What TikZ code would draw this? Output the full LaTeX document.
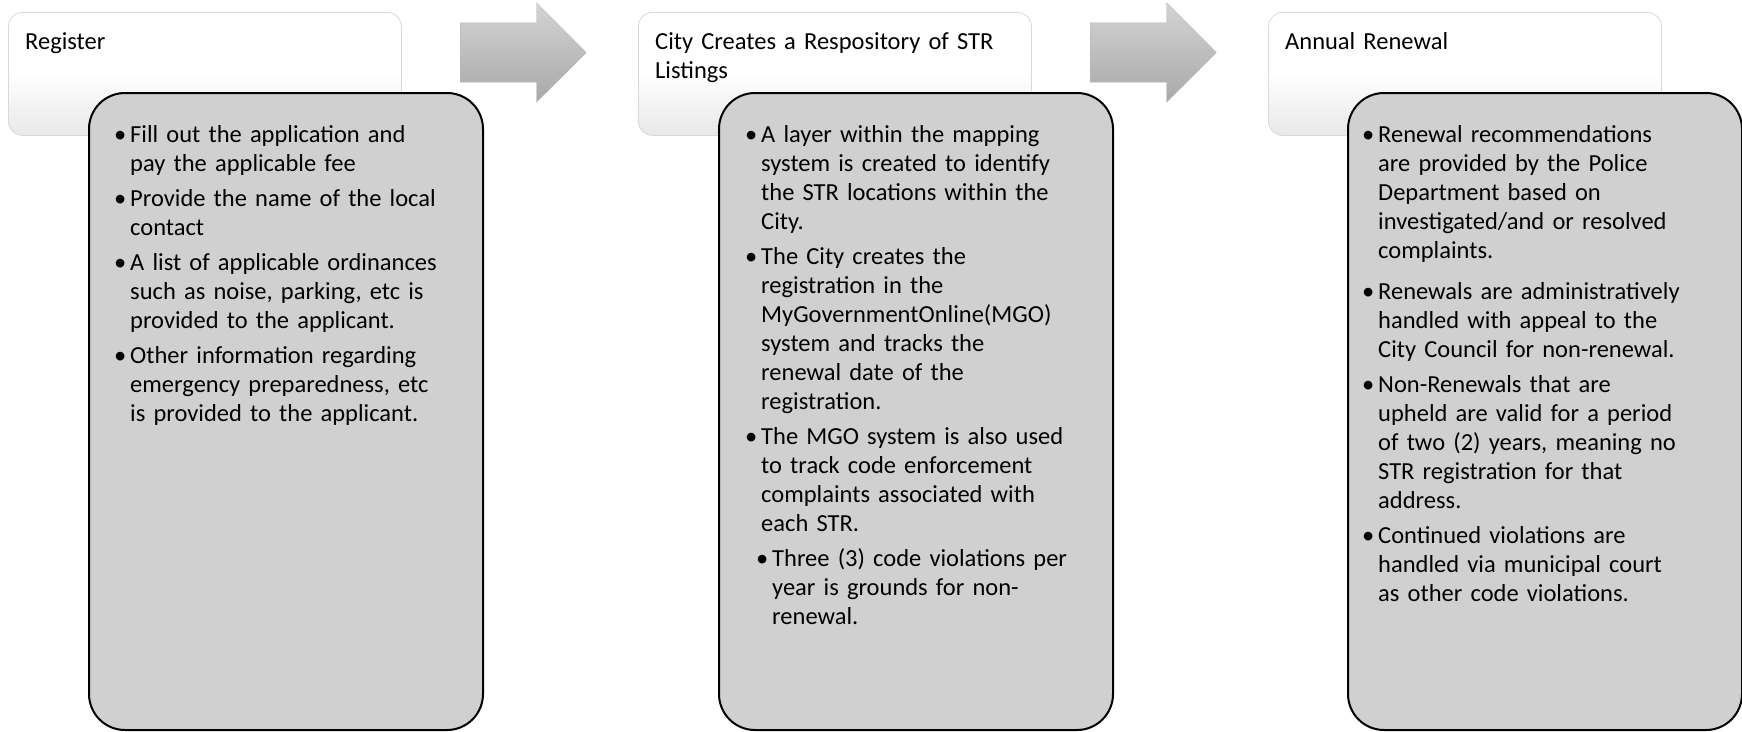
\documentclass[tikz,border=0pt]{standalone}
\usepackage{fontspec}
\setmainfont{Carlito}
\usetikzlibrary{shapes.arrows,positioning}

% one bullet paragraph: optional extra indent, hanging text
\newcommand{\bul}[2][0pt]{\hangindent=\dimexpr16pt+#1\relax\hangafter=1
  \noindent\hspace*{#1}\makebox[16pt][l]{\textbullet}#2\par}

\tikzset{
  headbox/.style={draw=black!15, line width=0.8pt, rounded corners=14pt,
    top color=white, bottom color=black!9, middle color=white,
    minimum width=393pt, minimum height=123pt, inner sep=0pt, anchor=north west},
  stepbox/.style={draw=black, line width=2pt, fill=black!18.5, rounded corners=36pt,
    minimum width=394pt, minimum height=637pt, inner sep=0pt, anchor=north west},
  headtext/.style={anchor=base west, inner sep=0pt, text width=380pt, align=left,
    font=\fontsize{24.5}{29}\selectfont},
  listtext/.style={anchor=base west, inner sep=0pt, text width=380pt,
    font=\fontsize{24.5}{29}\selectfont},
  flowarrow/.style={single arrow, draw=black!28, line width=0.4pt,
    top color=black!17, bottom color=black!34, anchor=west,
    minimum height=126pt, minimum width=99pt, inner xsep=0pt, inner ysep=29.5pt,
    single arrow head extend=20pt}
}

\begin{document}
\begin{tikzpicture}[x=1pt,y=-1pt]
  \useasboundingbox (0,0) rectangle (1742,731);

  % Step 1
  \node[headbox] (hd1) at (8,12) {};
  \node[headtext] (ht1) at (25,49) {Register};
  \node[stepbox] (sb1) at (88,92) {};
  \node[listtext] (lt1) at (114,142) {\setlength{\parskip}{6pt}%
    \bul{Fill out the application and\newline pay the applicable fee}
    \bul{Provide the name of the local\newline contact}
    \bul{A list of applicable ordinances\newline such as noise, parking, etc is\newline provided to the applicant.}
    \bul{Other information regarding\newline emergency preparedness, etc\newline is provided to the applicant.}};

  % Step 2
  \node[headbox] (hd2) at (638,12) {};
  \node[headtext] (ht2) at (655,49) {City Creates a Respository of STR\\Listings};
  \node[stepbox] (sb2) at (718,92) {};
  \node[listtext] (lt2) at (745,142) {\setlength{\parskip}{6pt}%
    \bul{A layer within the mapping\newline system is created to identify\newline the STR locations within the\newline City.}
    \bul{The City creates the\newline registration in the\newline MyGovernmentOnline(MGO)\newline system and tracks the\newline renewal date of the\newline registration.}
    \bul{The MGO system is also used\newline to track code enforcement\newline complaints associated with\newline each STR.}
    \bul[11pt]{Three (3) code violations per\newline year is grounds for non-\newline renewal.}};

  % Step 3
  \node[headbox] (hd3) at (1268,12) {};
  \node[headtext] (ht3) at (1285,49) {Annual Renewal};
  \node[stepbox] (sb3) at (1347,92) {};
  \node[listtext] (lt3) at (1362,142) {\setlength{\parskip}{6pt}%
    \bul{Renewal recommendations\newline are provided by the Police\newline Department based on\newline investigated/and or resolved\newline complaints.}
    \vspace{6pt}
    \bul{Renewals are administratively\newline handled with appeal to the\newline City Council for non-renewal.}
    \bul{Non-Renewals that are\newline upheld are valid for a period\newline of two (2) years, meaning no\newline STR registration for that\newline address.}
    \bul{Continued violations are\newline handled via municipal court\newline as other code violations.}};

  % arrows between the steps
  \node[flowarrow] (ar1) at (460,52.5) {};
  \node[flowarrow] (ar2) at (1090,52.5) {};
\end{tikzpicture}
\end{document}
